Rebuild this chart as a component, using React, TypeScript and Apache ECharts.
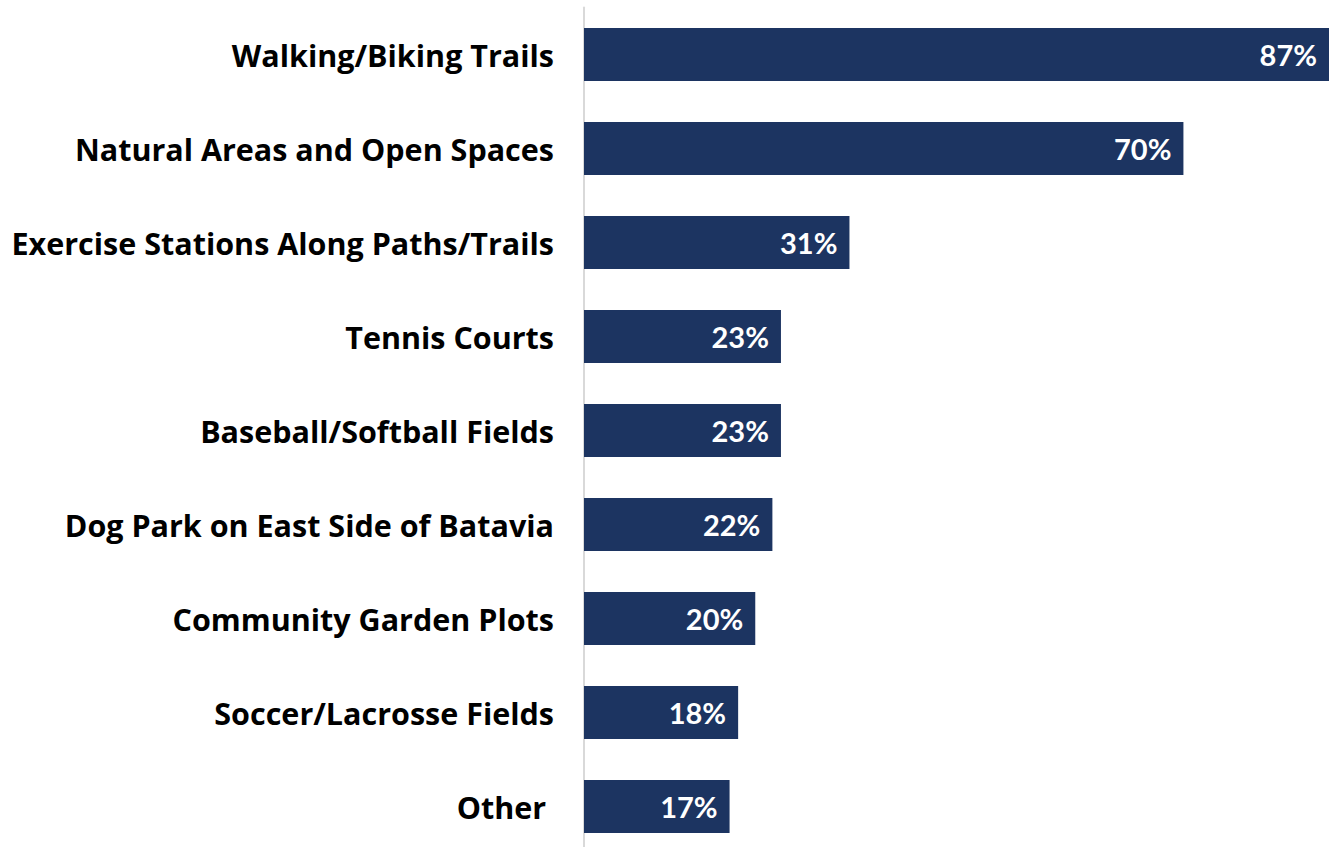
import React, { useEffect, useRef } from "react";
import * as echarts from "echarts";

const categories = [
  "Walking/Biking Trails",
  "Natural Areas and Open Spaces",
  "Exercise Stations Along Paths/Trails",
  "Tennis Courts",
  "Baseball/Softball Fields",
  "Dog Park on East Side of Batavia",
  "Community Garden Plots",
  "Soccer/Lacrosse Fields",
  "Other ",
];
const values = [87, 70, 31, 23, 23, 22, 20, 18, 17];

export default function App() {
  const ref = useRef<HTMLDivElement>(null);
  useEffect(() => {
    document.body.style.margin = "0";
    const chart = echarts.init(ref.current!, null, { renderer: "svg" });
    chart.setOption({
      animation: false,
      grid: { left: 584, right: 1, top: 7.5, height: 846, containLabel: false },
      xAxis: {
        type: "value",
        min: 0,
        max: 87,
        show: false,
      },
      yAxis: {
        type: "category",
        inverse: true,
        data: categories,
        axisLine: { show: true, lineStyle: { color: "#d9d9d9", width: 2 } },
        axisTick: { show: false },
        axisLabel: {
          color: "#000",
          fontFamily: "Open Sans",
          fontWeight: "bold",
          fontSize: 30.5,
          margin: 30,
        },
      },
      series: [
        {
          type: "bar",
          data: values,
          barWidth: 53,
          itemStyle: { color: "#1c3461" },
          label: {
            show: true,
            position: "insideRight",
            distance: 12,
            formatter: "{c}%",
            color: "#fff",
            fontFamily: "Lato",
            fontWeight: "bold",
            fontSize: 29,
          },
        },
      ],
    });
    return () => chart.dispose();
  }, []);
  return (
    <div
      ref={ref}
      style={{ position: "absolute", left: 0, top: 0, width: 1330, height: 860 }}
    />
  );
}
